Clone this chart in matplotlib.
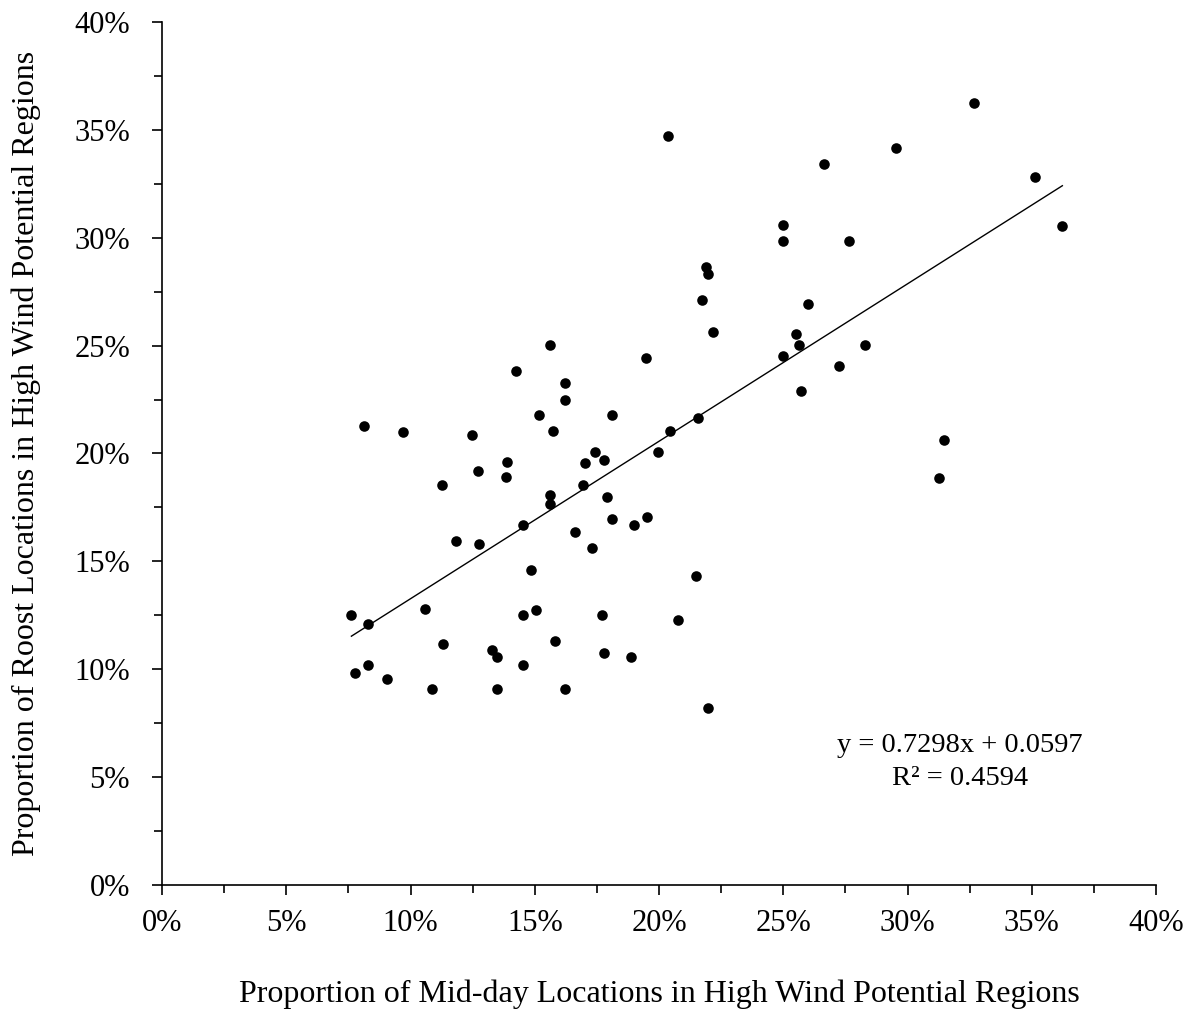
import matplotlib.pyplot as plt
from matplotlib.ticker import PercentFormatter, MultipleLocator
import numpy as np

# proportion of mid-day locations (x) and roost locations (y) in high wind regions, %
midday = [8.13, 9.71, 12.46, 16.23, 16.23, 15.16, 18.12, 15.73, 21.57, 20.44,
          19.95, 13.88, 12.73, 13.84, 11.27, 17.42, 17.01, 17.79, 16.94, 15.61,
          15.61, 17.90, 14.54, 18.12, 18.98, 19.52, 16.62, 11.83, 12.76, 17.32,
          14.85, 21.49, 7.62, 8.29, 10.60, 14.54, 15.05, 17.71, 20.75, 15.83,
          11.31, 13.27, 13.47, 17.77, 18.86, 14.54, 8.29, 7.78, 9.05, 10.87,
          13.47, 16.23, 21.96, 20.35, 32.66, 29.55, 26.64, 35.11, 36.23, 24.98,
          24.98, 27.65, 21.90, 21.97, 21.71, 25.98, 22.18, 25.51, 25.63, 28.27,
          24.98, 27.26, 25.71, 19.46, 31.45, 31.26, 15.62, 14.23]
roost = [21.29, 20.98, 20.86, 23.25, 22.48, 21.78, 21.78, 21.06, 21.66, 21.06,
         20.06, 19.61, 19.20, 18.93, 18.53, 20.06, 19.56, 19.70, 18.53, 18.06,
         17.66, 18.00, 16.70, 16.98, 16.70, 17.07, 16.35, 15.94, 15.82, 15.61,
         14.61, 14.31, 12.53, 12.08, 12.79, 12.53, 12.75, 12.51, 12.27, 11.32,
         11.16, 10.89, 10.57, 10.74, 10.57, 10.21, 10.21, 9.81, 9.55, 9.10,
         9.10, 9.10, 8.22, 34.73, 36.23, 34.15, 33.40, 32.82, 30.54, 30.59,
         29.84, 29.84, 28.64, 28.32, 27.11, 26.94, 25.62, 25.55, 25.03, 25.03,
         24.51, 24.06, 22.90, 24.41, 20.63, 18.85, 25.03, 23.82]

slope = 0.7298
intercept = 0.0597
r2 = 0.4594

x = np.array(midday) / 100
y = np.array(roost) / 100

plt.rcParams['font.family'] = 'Liberation Serif'

fig = plt.figure(figsize=(11.88, 10.13), dpi=100)
ax = fig.add_axes([0.1364, 0.1264, 0.8367, 0.8519])

ax.scatter(x, y, s=58, color='black', zorder=3, linewidths=0)

# linear trendline over the data range
xl = np.array([x.min(), x.max()])
ax.plot(xl, slope * xl + intercept, color='black', linewidth=1)

ax.text(0.321, 0.0645, 'y = %.4fx + %.4f' % (slope, intercept), ha='center', va='center', fontsize=20.5)
ax.text(0.321, 0.0495, 'R² = %.4f' % r2, ha='center', va='center', fontsize=20.5)

ax.set_xlim(0, 0.40)
ax.set_ylim(0, 0.40)
ax.xaxis.set_major_locator(MultipleLocator(0.05))
ax.yaxis.set_major_locator(MultipleLocator(0.05))
ax.xaxis.set_minor_locator(MultipleLocator(0.025))
ax.yaxis.set_minor_locator(MultipleLocator(0.025))
ax.xaxis.set_major_formatter(PercentFormatter(xmax=1, decimals=0))
ax.yaxis.set_major_formatter(PercentFormatter(xmax=1, decimals=0))

for s in ['top', 'right']:
    ax.spines[s].set_visible(False)
ax.spines['left'].set_linewidth(1.2)
ax.spines['bottom'].set_linewidth(1.2)
ax.tick_params(axis='both', which='major', labelsize=22, length=7, width=1.2)
ax.tick_params(axis='both', which='minor', length=6, width=1.2)
ax.tick_params(axis='x', which='major', pad=10)
ax.tick_params(axis='y', which='major', pad=16)

ax.set_xlabel('Proportion of Mid-day Locations in High Wind Potential Regions', fontsize=23, labelpad=30)
ax.set_ylabel('Proportion of Roost Locations in High Wind Potential Regions', fontsize=23, labelpad=24)

plt.savefig('out.png', dpi=100)
